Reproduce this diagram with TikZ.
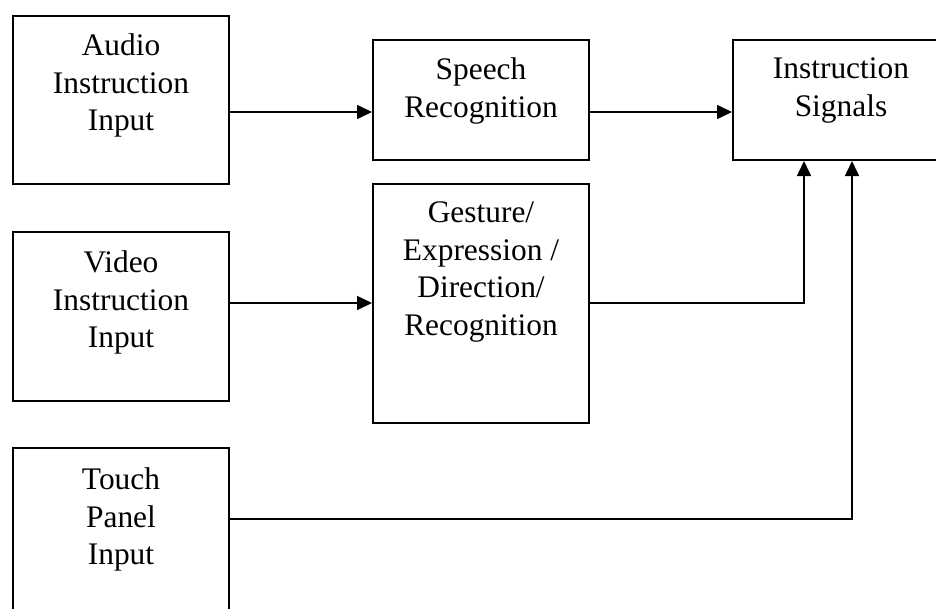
\documentclass[tikz,border=0pt]{standalone}
\usepackage{fontspec}
\setmainfont{Liberation Serif}
\usetikzlibrary{arrows.meta,calc}

\begin{document}
\begin{tikzpicture}[x=1pt,y=-1pt,
  blockbox/.style={draw=black, line width=2pt, fill=white, inner sep=0pt,
    anchor=north west, minimum width=216pt},
  blocktext/.style={anchor=north, align=center, inner sep=0pt,
    font=\fontsize{31.4pt}{37.5pt}\selectfont},
  arr/.style={line width=1.6pt, -{Triangle[length=15pt,width=14pt]}},
  link/.style={line width=1.6pt}]
  \useasboundingbox (0,0) rectangle (936,608);
  \clip (0,0) rectangle (936,608);

  % blocks
  \node[blockbox, minimum height=168pt] (audio)   at (12,15)   {};
  \node[blockbox, minimum height=169pt] (video)   at (12,231)  {};
  \node[blockbox, minimum height=193pt] (touch)   at (12,447)  {};
  \node[blockbox, minimum height=120pt] (speech)  at (372,39)  {};
  \node[blockbox, minimum height=239pt] (gesture) at (372,183) {};
  \node[blockbox, minimum height=120pt] (signals) at (732,39)  {};

  % block captions, set near the top edge of each block
  \node[blocktext] (audiotxt)   at ($(audio.north)+(0,19)$)   {Audio\\Instruction\\Input};
  \node[blocktext] (videotxt)   at ($(video.north)+(0,20)$)   {Video\\Instruction\\Input};
  \node[blocktext] (touchtxt)   at ($(touch.north)+(0,21)$)   {Touch\\Panel\\Input};
  \node[blocktext] (speechtxt)  at ($(speech.north)+(0,19)$)  {Speech\\Recognition};
  \node[blocktext] (gesturetxt) at ($(gesture.north)+(0,19)$) {Gesture/\\Expression /\\Direction/\\Recognition};
  \node[blocktext] (signalstxt) at ($(signals.north)+(0,19)$) {Instruction\\Signals};

  % signal levels and entry columns
  \coordinate (rowA) at (0,112);
  \coordinate (rowB) at (0,303);
  \coordinate (rowC) at (0,519);
  \coordinate (colA) at (804,0);
  \coordinate (colB) at (852,0);

  % connectors
  \draw[arr] (audio.east |- rowA) -- (speech.west |- rowA);
  \draw[arr] (speech.east |- rowA) -- (signals.west |- rowA);
  \draw[arr] (video.east |- rowB) -- (gesture.west |- rowB);
  \draw[arr] (gesture.east |- rowB) -| (signals.south -| colA);
  \draw[arr] (touch.east |- rowC) -| (signals.south -| colB);
\end{tikzpicture}
\end{document}
